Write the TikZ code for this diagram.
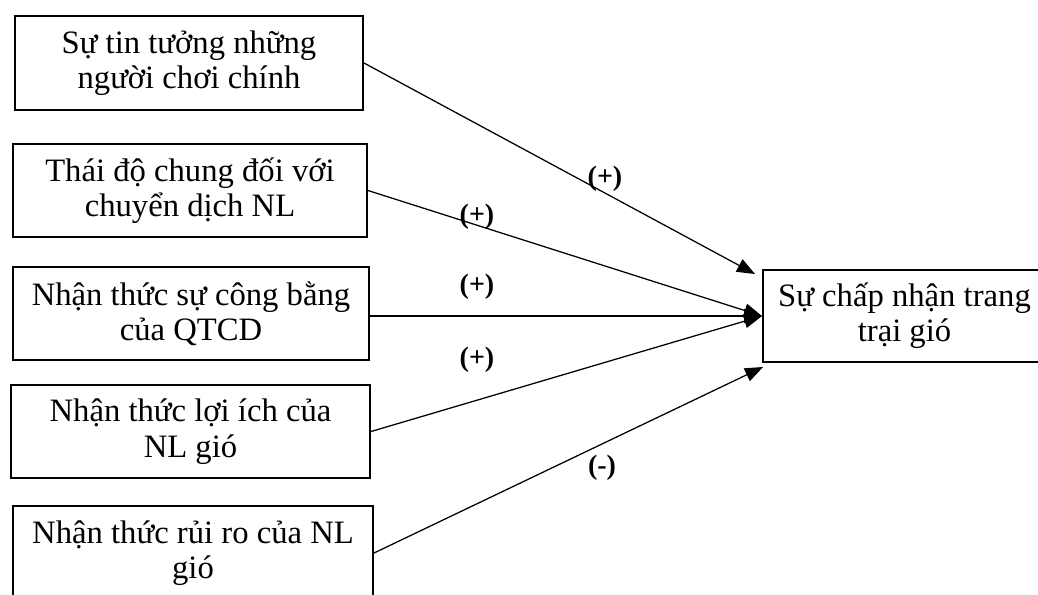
\documentclass[tikz,border=0pt]{standalone}
\usepackage{fontspec}
\setmainfont{Liberation Serif}
\usetikzlibrary{arrows.meta}
\begin{document}
\begin{tikzpicture}[x=0.75pt,y=-0.75pt,
  box/.style={draw,line width=1.5pt,rectangle,inner sep=0pt,align=center,
    font=\fontsize{24.5}{26.5}\selectfont},
  conn/.style={line width=0.95pt,-{Triangle[length=13.5pt,width=10.5pt]}},
  lbl/.style={font=\fontsize{21}{22}\selectfont\bfseries,inner sep=0pt}]
\useasboundingbox (0,0) rectangle (1038,594);
\node[box,minimum width=348*0.75pt,minimum height=94*0.75pt] (b1) at (189,63) {Sự tin tưởng những\\người chơi chính};
\node[box,minimum width=354*0.75pt,minimum height=93*0.75pt] (b2) at (190,190.5) {Thái độ chung đối với\\chuyển dịch NL};
\node[box,minimum width=356*0.75pt,minimum height=93*0.75pt] (b3) at (191,313.5) {Nhận thức sự công bằng\\của QTCD};
\node[box,minimum width=359*0.75pt,minimum height=93*0.75pt] (b4) at (190.5,431.5) {Nhận thức lợi ích của\\NL gió};
\node[box,minimum width=360*0.75pt,minimum height=94*0.75pt] (b5) at (193,553) {Nhận thức rủi ro của NL\\gió};
\node[box,minimum width=283*0.75pt,minimum height=92*0.75pt] (t) at (904.5,316) {Sự chấp nhận trang\\trại gió};
\coordinate (e1) at (755,274);
\coordinate (e5) at (763,367);
\draw[conn] (b1.east) -- (e1);
\draw[conn] (b2.east) -- (t.west);
\draw[conn] (b3.east |- t.west) -- (t.west);
\draw[conn] (b4.east) -- (t.west);
\draw[conn] (b5.east) -- (e5);
\node[lbl] (l1) at (605,179) {(+)};
\node[lbl] (l2) at (477,217) {(+)};
\node[lbl] (l3) at (477,287) {(+)};
\node[lbl] (l4) at (477,360) {(+)};
\node[lbl] (l5) at (602,468) {(-)};
\end{tikzpicture}
\end{document}
